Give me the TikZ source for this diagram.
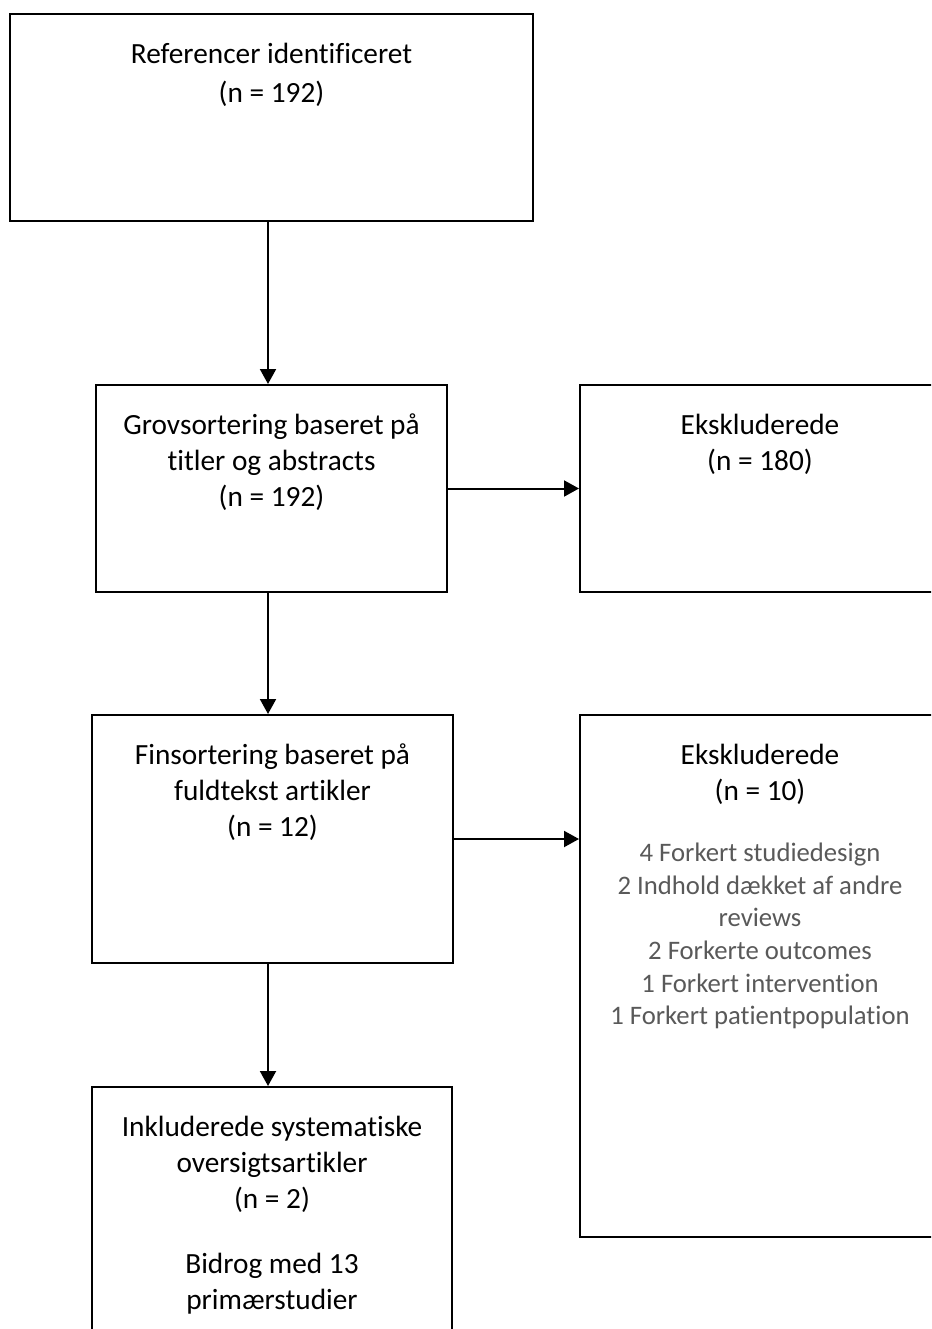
\documentclass[tikz,border=0pt]{standalone}
\usepackage{fontspec}
\setmainfont{Carlito}[Ligatures=NoCommon]
\usepackage{xcolor}
\usetikzlibrary{arrows.meta,positioning,calc}
\definecolor{listgray}{RGB}{89,89,89}

\begin{document}
\begin{tikzpicture}[x=1pt,y=-1pt,
  flowbox/.style={rectangle,draw,line width=2pt,inner sep=0pt},
  boxtext/.style={align=center,inner sep=0pt,font=\fontsize{29.3}{35.8}\selectfont},
  listtext/.style={align=center,inner sep=0pt,text=listgray,font=\fontsize{26.7}{32.6}\selectfont},
  flowarrow/.style={-{Triangle[length=15pt,width=16pt]},line width=2pt}]

  \useasboundingbox (0,0) rectangle (931,1329);
  \clip (0,0) rectangle (931,1329);

  % Boxes
  \node[flowbox,minimum width=523pt,minimum height=207pt] (ident) at (271.5,117.5) {};
  \node[flowbox,minimum width=351pt,minimum height=207pt] (grov) at (271.5,488.5) {};
  \node[flowbox,minimum width=360pt,minimum height=207pt] (eks1) at (760,488.5) {};
  \node[flowbox,minimum width=361pt,minimum height=248pt] (fin) at (272.5,839) {};
  \node[flowbox,minimum width=360pt,minimum height=522pt] (eks2) at (760,976) {};
  \node[flowbox,minimum width=360pt,minimum height=300pt] (inkl) at (272,1237) {};

  % Texts
  \node[boxtext,font=\fontsize{29.3}{39}\selectfont,below=30pt of ident.north] (identtxt) {
    Referencer identificeret\\
    (n = 192)
  };
  \node[boxtext,below=30pt of grov.north] (grovtxt) {
    Grovsortering baseret på\\
    titler og abstracts\\
    (n = 192)
  };
  \node[boxtext,below=30pt of eks1.north] (eks1txt) {
    Ekskluderede\\
    (n = 180)
  };
  \node[boxtext,below=30pt of fin.north] (fintxt) {
    Finsortering baseret på\\
    fuldtekst artikler\\
    (n = 12)
  };
  \node[boxtext,below=30pt of eks2.north] (eks2txt) {
    Ekskluderede\\
    (n = 10)
  };
  \node[listtext,below=129pt of eks2.north] (eks2list) {
    4 Forkert studiedesign\\
    2 Indhold dækket af andre\\
    reviews\\
    2 Forkerte outcomes\\
    1 Forkert intervention\\
    1 Forkert patientpopulation
  };
  \node[boxtext,below=30pt of inkl.north] (inkltxt) {
    Inkluderede systematiske\\
    oversigtsartikler\\
    (n = 2)\\[30pt]
    Bidrog med 13\\
    primærstudier
  };

  % Arrows
  \coordinate (spine) at (268,0);
  \draw[flowarrow] (ident.south -| spine) -- (grov.north -| spine);
  \draw[flowarrow] (grov.south -| spine) -- (fin.north -| spine);
  \draw[flowarrow] (fin.south -| spine) -- (inkl.north -| spine);
  \draw[flowarrow] (grov.east) -- (eks1.west |- grov.east);
  \draw[flowarrow] (fin.east) -- (eks2.west |- fin.east);

\end{tikzpicture}
\end{document}
